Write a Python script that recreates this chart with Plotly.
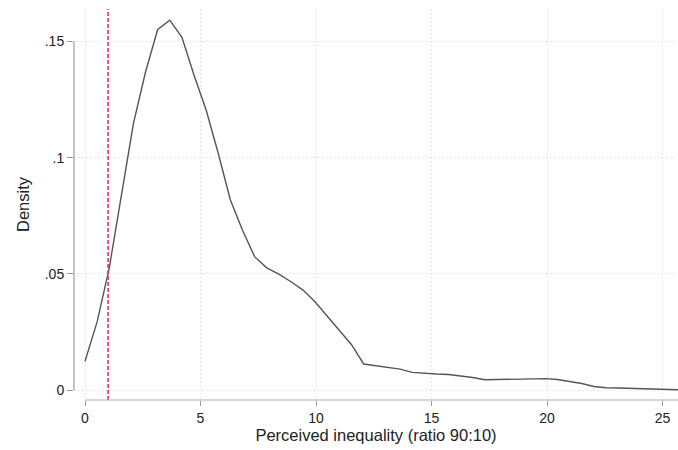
import numpy as np
import plotly.graph_objects as go

# Kernel density estimate evaluated at 50 points from 0 to x_max
x_max = 25.7
n_points = 50
density = [
    0.0124, 0.0293, 0.0525, 0.0839, 0.1148, 0.1370, 0.1552, 0.1592, 0.1518, 0.1355,
    0.1205, 0.1018, 0.0818, 0.0688, 0.0574, 0.0526, 0.0499, 0.0466, 0.0430, 0.0379,
    0.0318, 0.0259, 0.0195, 0.0112, 0.0105, 0.0099, 0.0090, 0.0076, 0.0071, 0.0069,
    0.0067, 0.0062, 0.0054, 0.0044, 0.0044, 0.0045, 0.0047, 0.0048, 0.0049, 0.0045,
    0.0038, 0.0028, 0.0015, 0.00095, 0.00086, 0.00077, 0.0006, 0.00043, 0.00026, 0.00013,
]
grid_x = [i * x_max / (n_points - 1) for i in range(n_points)]

ref_line_x = 1
x_ticks = [0, 5, 10, 15, 20, 25]
y_ticks = [0, 0.05, 0.1, 0.15]
y_tick_text = ["0", ".05", ".1", ".15"]

x_range = [-0.476, 25.67]
y_range = [-0.0043, 0.164]

fig = go.Figure()
fig.add_trace(go.Scatter(
    x=grid_x, y=density, mode="lines",
    line=dict(color="#555555", width=1.4), showlegend=False, hoverinfo="skip",
))

fig.add_shape(type="line", xref="x", yref="paper", x0=ref_line_x, x1=ref_line_x, y0=0, y1=1,
              line=dict(color="#e0336a", width=1.6, dash="4px,2px"))
# Stata-style axis lines spanning tick range
fig.add_shape(type="line", xref="paper", yref="y", x0=0, x1=0, y0=y_ticks[0], y1=y_ticks[-1],
              line=dict(color="#9a9a9a", width=1.2))
fig.add_shape(type="line", xref="x", yref="paper", x0=x_ticks[0], x1=x_range[1], y0=0, y1=0,
              line=dict(color="#b0b0b0", width=1.2))

font_family = "Liberation Sans, Arial, sans-serif"
fig.update_layout(
    width=678, height=450,
    margin=dict(l=74, r=0, t=9, b=50),
    paper_bgcolor="white", plot_bgcolor="white",
    font=dict(family=font_family, size=14, color="#222222"),
    xaxis=dict(
        range=x_range, tickvals=x_ticks, ticks="outside", ticklen=5, tickcolor="#9a9a9a",
        showline=False, zeroline=False,
        showgrid=True, gridcolor="#d4d4d4", griddash="1px,3px", gridwidth=1,
        title=dict(text="Perceived inequality (ratio 90:10)", font=dict(size=16.5), standoff=4),
        tickfont=dict(size=14),
    ),
    yaxis=dict(
        range=y_range, tickvals=y_ticks, ticktext=y_tick_text, ticks="outside", ticklen=6,
        tickcolor="#9a9a9a", showline=False, zeroline=False,
        showgrid=True, gridcolor="#d4d4d4", griddash="1px,3px", gridwidth=1,
        title=dict(text="Density", font=dict(size=16.5), standoff=10),
        tickfont=dict(size=14),
    ),
)

fig.write_html("out.html", config={"displayModeBar": False},
               post_script="document.body.style.margin='0';document.body.style.overflow='hidden';")
